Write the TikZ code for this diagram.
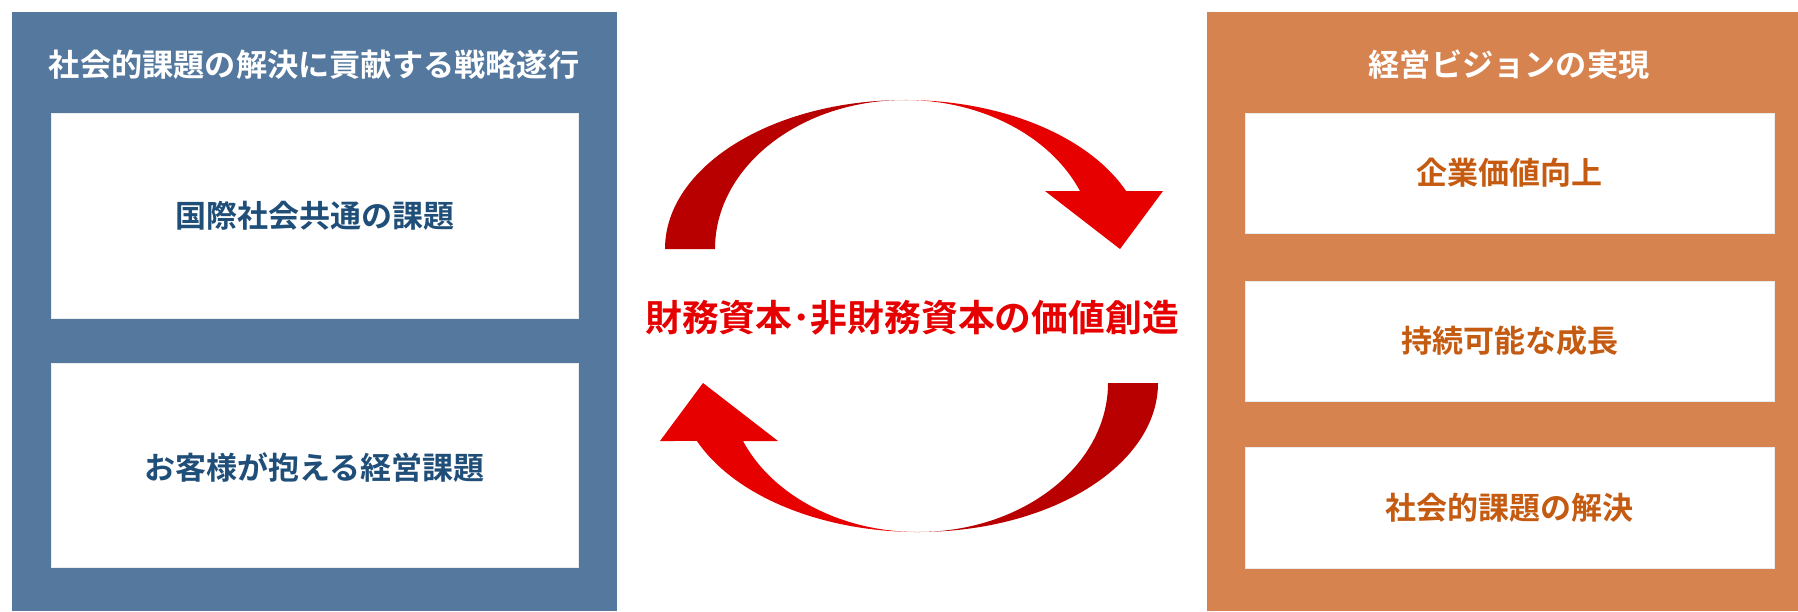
\documentclass[tikz,border=0pt]{standalone}
\usepackage{fontspec}
\setmainfont{Noto Sans CJK JP}[BoldFont={Noto Sans CJK JP Bold}]
\usetikzlibrary{fit}
\definecolor{panelblue}{RGB}{85,121,158}
\definecolor{panelorange}{RGB}{215,131,80}
\definecolor{textblue}{RGB}{31,78,121}
\definecolor{textorange}{RGB}{197,90,17}
\definecolor{textred}{RGB}{230,0,0}
\definecolor{arrowdark}{RGB}{185,0,0}
\definecolor{arrowbright}{RGB}{230,0,0}
\tikzset{
  panelbox/.style={inner sep=0pt, outer sep=0pt},
  whitebox/.style={fill=white, draw=white!85!gray, line width=0.4pt, inner sep=0pt, outer sep=0pt},
  titletext/.style={text=white, font=\bfseries\fontsize{15.6pt}{18pt}\selectfont},
  bluetext/.style={text=textblue, font=\bfseries\fontsize{15.5pt}{18pt}\selectfont},
  orangetext/.style={text=textorange, font=\bfseries\fontsize{15.5pt}{18pt}\selectfont},
  centertext/.style={text=textred, font=\bfseries\fontsize{18.4pt}{21pt}\selectfont},
}
\begin{document}
\begin{tikzpicture}[x=0.5pt,y=-0.5pt]
\useasboundingbox (0,0) rectangle (1798,611);
% panels
\node[panelbox, fill=panelblue, fit={(11.5,11.5) (617,611)}] (lpanel) {};
\node[panelbox, fill=panelorange, fit={(1207,11.5) (1798,611)}] (rpanel) {};
% titles
\node[titletext] (ltitle) at (314,65) {社会的課題の解決に貢献する戦略遂行};
\node[titletext] (rtitle) at (1509,65) {経営ビジョンの実現};
% left boxes
\node[whitebox, fit={(51.6,113) (578,318)}] (lb1) {};
\node[bluetext] (lt1) at (lb1.center) {国際社会共通の課題};
\node[whitebox, fit={(51.6,363.5) (578,567.6)}] (lb2) {};
\node[bluetext] (lt2) at ([yshift=-1pt]lb2.center) {お客様が抱える経営課題};
% right boxes
\node[whitebox, fit={(1245,113) (1774,233)}] (rb1) {};
\node[orangetext] (rt1) at (rb1.center) {企業価値向上};
\node[whitebox, fit={(1245,281) (1774,401)}] (rb2) {};
\node[orangetext] (rt2) at (rb2.center) {持続可能な成長};
\node[whitebox, fit={(1245,447) (1774,568)}] (rb3) {};
\node[orangetext] (rt3) at (rb3.center) {社会的課題の解決};
% center text
\node[centertext] (ctext) at (912,318) {財務資本･非財務資本の価値創造};
% top curved arrow
\begin{scope}[shift={(905,249)}]
\fill[arrowdark] (-240,0) arc[start angle=180,end angle=270,x radius=240,y radius=149]
  arc[start angle=270,end angle=180,x radius=190,y radius=149] -- cycle;
\fill[arrowbright] (0,-149) arc[start angle=270,end angle=337.1,x radius=240,y radius=149]
  -- (258,-58) -- (215,0) -- (140,-58) -- (175,-58)
  arc[start angle=337.1,end angle=270,x radius=190,y radius=149] -- cycle;
\end{scope}
% bottom curved arrow
\begin{scope}[shift={(918,383)},rotate=180]
\fill[arrowdark] (-240,0) arc[start angle=180,end angle=270,x radius=240,y radius=149]
  arc[start angle=270,end angle=180,x radius=190,y radius=149] -- cycle;
\fill[arrowbright] (0,-149) arc[start angle=270,end angle=337.1,x radius=240,y radius=149]
  -- (258,-58) -- (215,0) -- (140,-58) -- (175,-58)
  arc[start angle=337.1,end angle=270,x radius=190,y radius=149] -- cycle;
\end{scope}
\end{tikzpicture}
\end{document}
